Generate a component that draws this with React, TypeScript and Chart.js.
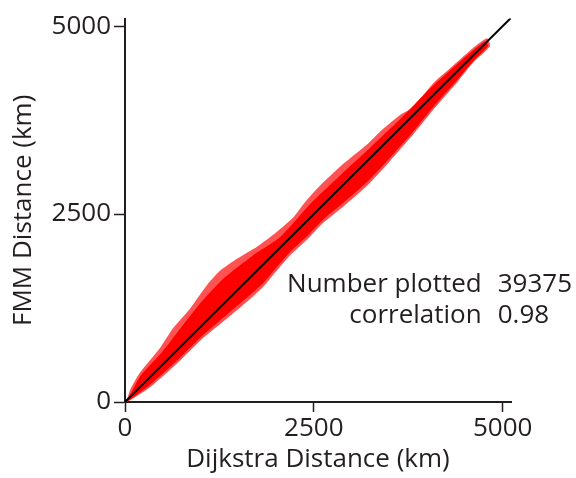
import React, { useEffect, useRef } from "react";
import { Chart, registerables } from "chart.js";
Chart.register(...registerables);

// Axis configuration
const xTickValues = [0, 2500, 5000];
const yTickValues = [0, 2500, 5000];
const xAxisMax = 5110;
const yAxisMax = 5100;

// Identity line (y = x)
const identityX = [0, 5110];
const identityY = [0, 5110];

// Point-cloud envelope (outer, sparse fringe)
const outerUpperX = [26, 66, 199, 463, 635, 860, 1086, 1258, 1483, 1747, 2012, 2224, 2409, 2581, 2886, 3204, 3376, 3641, 3813, 4077, 4342, 4607, 4792];
const outerUpperY = [26, 157, 392, 719, 981, 1242, 1556, 1745, 1905, 2065, 2265, 2450, 2690, 2877, 3165, 3426, 3596, 3818, 3920, 4237, 4472, 4708, 4839];
const outerLowerX = [26, 331, 728, 1033, 1350, 1615, 1827, 1959, 2184, 2409, 2621, 2939, 3204, 3508, 3813, 4077, 4395, 4607, 4832];
const outerLowerY = [0, 196, 549, 850, 1112, 1334, 1530, 1687, 1948, 2158, 2380, 2642, 2877, 3204, 3557, 3884, 4250, 4512, 4734];

// Dense core of the cloud
const innerUpperX = [26, 199, 503, 953, 1297, 1694, 2052, 2449, 2886, 3243, 3641, 4038, 4435, 4766];
const innerUpperY = [13, 340, 680, 1260, 1635, 1950, 2190, 2630, 3050, 3380, 3760, 4170, 4530, 4800];
const innerLowerX = [26, 331, 728, 1033, 1350, 1615, 1827, 1959, 2184, 2409, 2621, 2939, 3204, 3508, 3813, 4077, 4395, 4607, 4805];
const innerLowerY = [0, 230, 590, 890, 1165, 1390, 1580, 1735, 1995, 2205, 2425, 2690, 2925, 3250, 3595, 3920, 4280, 4530, 4734];

// Annotation
const labelNumber = "Number plotted";
const valueNumber = "39375";
const labelCorr = "correlation";
const valueCorr = "0.98";
const annotLabelX = 4722;
const annotValueX = 4934;
const annotRow1Y = 1460;
const annotRow2Y = 1050;

const FONT = "'Open Sans', 'Noto Sans', sans-serif";
const TEXT = "#231f20";
const FS = 26;

function polygon(ux: number[], uy: number[], lx: number[], ly: number[]) {
  const pts = ux.map((x, i) => ({ x, y: uy[i] }));
  for (let i = lx.length - 1; i >= 0; i--) pts.push({ x: lx[i], y: ly[i] });
  pts.push({ x: ux[0], y: uy[0] });
  return pts;
}

const annotationPlugin = {
  id: "annot",
  afterDatasetsDraw(chart: any) {
    const { ctx, scales } = chart;
    const xs = scales.x;
    const ys = scales.y;
    ctx.save();
    ctx.fillStyle = TEXT;
    ctx.font = `${FS}px ${FONT}`;
    ctx.textBaseline = "alphabetic";
    ctx.textAlign = "right";
    ctx.fillText(labelNumber, xs.getPixelForValue(annotLabelX), ys.getPixelForValue(annotRow1Y));
    ctx.fillText(labelCorr, xs.getPixelForValue(annotLabelX), ys.getPixelForValue(annotRow2Y));
    ctx.textAlign = "left";
    ctx.fillText(valueNumber, xs.getPixelForValue(annotValueX), ys.getPixelForValue(annotRow1Y));
    ctx.fillText(valueCorr, xs.getPixelForValue(annotValueX), ys.getPixelForValue(annotRow2Y));
    ctx.restore();
  },
};

export default function App() {
  const ref = useRef<HTMLCanvasElement>(null);
  useEffect(() => {
    document.body.style.margin = "0";
    const canvas = ref.current!;
    const chart = new Chart(canvas, {
      type: "line",
      data: {
        datasets: [
          {
            data: identityX.map((x, i) => ({ x, y: identityY[i] })),
            borderColor: "#000000",
            borderWidth: 2,
            pointRadius: 0,
            fill: false,
          },
          {
            data: polygon(innerUpperX, innerUpperY, innerLowerX, innerLowerY),
            borderWidth: 0,
            borderColor: "rgba(0,0,0,0)",
            backgroundColor: "#ff0000",
            pointRadius: 0,
            fill: "shape",
            tension: 0.2,
          },
          {
            data: polygon(outerUpperX, outerUpperY, outerLowerX, outerLowerY),
            borderWidth: 0,
            borderColor: "rgba(0,0,0,0)",
            backgroundColor: "rgba(255,0,0,0.68)",
            pointRadius: 0,
            fill: "shape",
            tension: 0.2,
          },
        ],
      },
      options: {
        animation: false,
        responsive: false,
        events: [],
        layout: { padding: { left: 0, right: 65, top: 12, bottom: 0 } },
        plugins: { legend: { display: false }, tooltip: { enabled: false } },
        scales: {
          x: {
            type: "linear",
            min: 0,
            max: xAxisMax,
            afterBuildTicks: (s: any) => {
              s.ticks = xTickValues.map((v) => ({ value: v }));
            },
            afterFit: (s: any) => {
              s.height = 76;
            },
            grid: {
              display: true,
              drawOnChartArea: false,
              drawTicks: true,
              tickLength: 10,
              tickWidth: 1.5,
              tickColor: TEXT,
            },
            border: { display: true, color: TEXT, width: 2 },
            ticks: {
              font: { family: FONT, size: FS },
              color: TEXT,
              padding: 1,
              maxRotation: 0,
              callback: (v: any) => String(v),
            },
            title: {
              display: true,
              text: "Dijkstra Distance (km)",
              font: { family: FONT, size: FS },
              color: TEXT,
              padding: { top: 0, bottom: 3 },
            },
          },
          y: {
            type: "linear",
            min: 0,
            max: yAxisMax,
            afterBuildTicks: (s: any) => {
              s.ticks = yTickValues.map((v) => ({ value: v }));
            },
            afterFit: (s: any) => {
              s.width = 125;
            },
            grid: {
              display: true,
              drawOnChartArea: false,
              drawTicks: true,
              tickLength: 11,
              tickWidth: 1.5,
              tickColor: TEXT,
            },
            border: { display: true, color: TEXT, width: 2 },
            ticks: {
              font: { family: FONT, size: FS },
              color: TEXT,
              padding: 3,
              callback: (v: any) => String(v),
            },
            title: {
              display: true,
              text: "FMM Distance (km)",
              font: { family: FONT, size: FS },
              color: TEXT,
              padding: { top: 8, bottom: 0 },
            },
          },
        },
      },
      plugins: [annotationPlugin],
    } as any);
    return () => chart.destroy();
  }, []);
  return (
    <div style={{ width: 576, height: 478 }}>
      <canvas ref={ref} width={576} height={478} style={{ display: "block" }} />
    </div>
  );
}
